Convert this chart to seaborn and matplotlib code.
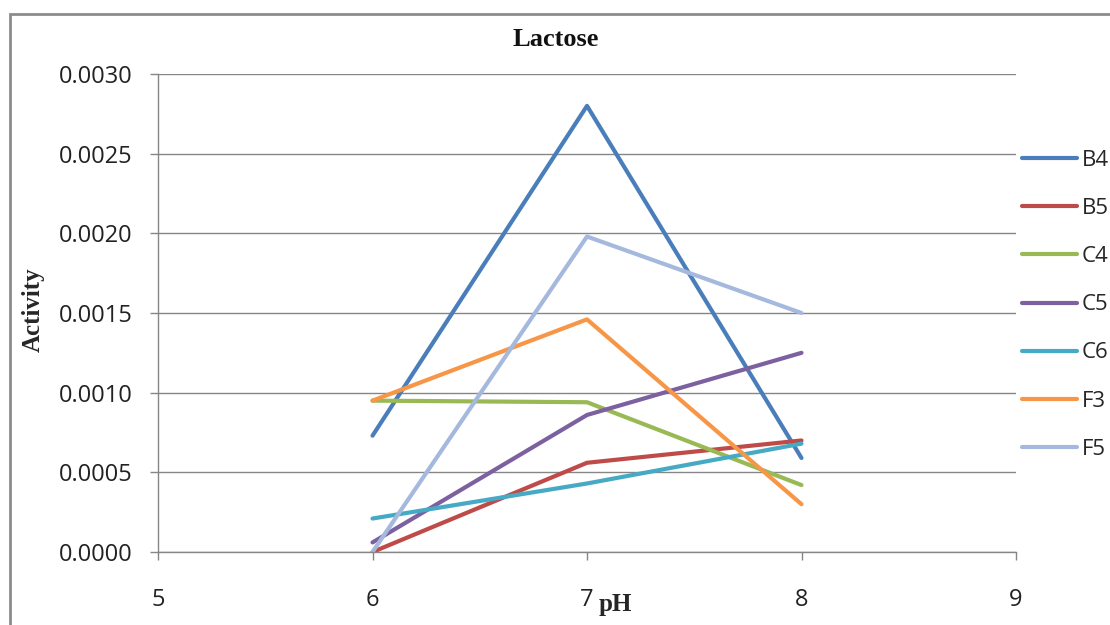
import matplotlib
matplotlib.use("Agg")
import matplotlib.pyplot as plt
from matplotlib.patches import Rectangle
from matplotlib.ticker import FormatStrFormatter, MultipleLocator
import pandas as pd
import seaborn as sns

# pH levels tested
ph = [6, 7, 8]

# Enzyme activity on lactose for each isolate
b4 = [0.00073, 0.00280, 0.00059]
b5 = [0.00000, 0.00056, 0.00070]
c4 = [0.00095, 0.00094, 0.00042]
c5 = [0.00006, 0.00086, 0.00125]
c6 = [0.00021, 0.00043, 0.00068]
f3 = [0.00095, 0.00146, 0.00030]
f5 = [0.00000, 0.00198, 0.00150]

series_names = ["B4", "B5", "C4", "C5", "C6", "F3", "F5"]
series_values = [b4, b5, c4, c5, c6, f3, f5]
colors = ["#4A7EBB", "#BE4B48", "#98B954", "#7D60A0", "#46AAC5", "#F79646", "#A5B9DE"]

rows = []
for name, vals in zip(series_names, series_values):
    for x, v in zip(ph, vals):
        rows.append({"pH": x, "Activity": v, "Isolate": name})
df = pd.DataFrame(rows)

sns.set_theme(style="white")
plt.rcParams["font.family"] = ["Open Sans", "DejaVu Sans"]

grid_color = "#868686"

fig = plt.figure(figsize=(11.10, 6.25), dpi=100)
ax = fig.add_axes([158 / 1110, 1 - 552 / 625, 858 / 1110, 478 / 625])

sns.lineplot(data=df, x="pH", y="Activity", hue="Isolate",
             hue_order=series_names, palette=colors, linewidth=3.0,
             ax=ax, legend=True)

ax.set_xlim(5, 9)
ax.set_ylim(0, 0.003)
ax.xaxis.set_major_locator(MultipleLocator(1))
ax.yaxis.set_major_locator(MultipleLocator(0.0005))
ax.yaxis.set_major_formatter(FormatStrFormatter("%.4f"))

ax.grid(axis="y", color=grid_color, linewidth=1.0)
ax.grid(axis="x", visible=False)
ax.set_axisbelow(True)
for side in ("top", "right"):
    ax.spines[side].set_visible(False)
for side in ("left", "bottom"):
    ax.spines[side].set_color(grid_color)
    ax.spines[side].set_linewidth(1.0)

ax.tick_params(axis="y", which="major", direction="out", length=6, width=1,
               color=grid_color, labelsize=17, pad=12, left=True)
ax.tick_params(axis="x", which="major", direction="out", length=6, width=1,
               color=grid_color, labelsize=17, pad=20, bottom=True)
for lab in ax.get_xticklabels() + ax.get_yticklabels():
    lab.set_color("#222222")

serif = ["Liberation Serif", "DejaVu Serif"]
ax.set_xlabel("pH", fontfamily=serif, fontweight="bold", fontsize=18)
ax.set_ylabel("Activity", fontfamily=serif, fontweight="bold", fontsize=18)
ax.xaxis.set_label_coords((615 - 158) / 858, (552 - 605) / 478)
ax.yaxis.set_label_coords((33 - 158) / 858, (552 - 310) / 478)
ax.xaxis.label.set_va("center")
ax.yaxis.label.set_va("center")

fig.text(556 / 1110, 1 - 40 / 625, "Lactose", fontfamily=serif,
         fontweight="bold", fontsize=19, ha="center", va="center",
         color="#111111")

handles, labels = ax.get_legend_handles_labels()
ax.legend(handles, labels, loc="upper left",
          bbox_to_anchor=(1022 / 1110, 1 - 150 / 625),
          bbox_transform=fig.transFigure, frameon=False, fontsize=16,
          handlelength=2.48, handletextpad=0.22, labelspacing=1.22,
          borderaxespad=0, borderpad=0)

# outer chart frame
fig.patches.append(Rectangle((10 / 1110, -0.2), 1.2, 1.2 - 14 / 625,
                             transform=fig.transFigure, fill=False,
                             edgecolor="#8C8C8C", linewidth=2.0, zorder=0))

fig.savefig("out.png", dpi=100, facecolor="white")
